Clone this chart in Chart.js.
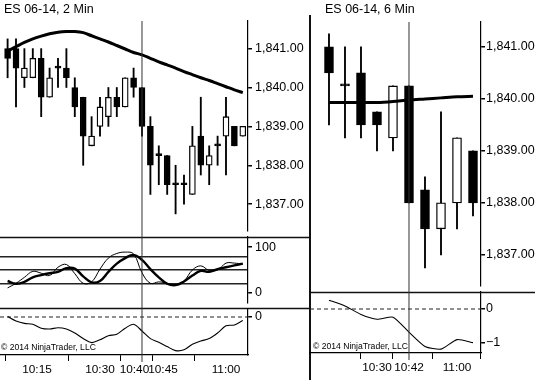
<!DOCTYPE html>
<html>
<head>
<meta charset="utf-8">
<title>ES 06-14</title>
<script src="https://cdn.jsdelivr.net/npm/chart.js@4.4.1/dist/chart.umd.min.js"></script>
<style>
  body { margin: 0; background: #fff; }
  #wrap { position: relative; width: 535px; height: 380px; overflow: hidden; }
  #wrap canvas { position: absolute; left: 0; top: 0; }
</style>
</head>
<body>
<div id="wrap">
  <canvas id="leftPrice" width="535" height="380"></canvas>
  <canvas id="leftStoch" width="535" height="380"></canvas>
  <canvas id="leftOsc" width="535" height="380"></canvas>
  <canvas id="rightPrice" width="535" height="380"></canvas>
  <canvas id="rightOsc" width="535" height="380"></canvas>
</div>
<script>
// times are minutes after 10:00

// 2 min chart
const leftTimes = [8, 10, 12, 14, 16, 18, 20, 22, 24, 26, 28, 30, 32, 34, 36, 38, 40, 42, 44, 46, 48, 50, 52, 54, 56, 58, 60, 62, 64];
const leftOpen  = [1841, 1841, 1840.25, 1840.25, 1840.75, 1839.75, 1840.5, 1840.5, 1840, 1839.75, 1838.5, 1839, 1839.25, 1839.75, 1839.5, 1840.25, 1840, 1839, 1838.25, 1838.25, 1837.5, 1837.5, 1837.25, 1838.75, 1838, 1838.5, 1838.75, 1839, 1838.75];
const leftHigh  = [1841.25, 1841.25, 1841, 1841, 1841, 1840.5, 1840.75, 1841, 1840.25, 1839.75, 1839.25, 1839.75, 1840, 1840, 1840.25, 1840.5, 1840, 1839.25, 1838.5, 1838.25, 1838, 1837.75, 1839, 1839.75, 1838.5, 1838.75, 1839.75, 1839, 1839];
const leftLow   = [1840.25, 1839.5, 1840, 1840.25, 1839.25, 1839.75, 1840, 1840, 1839.25, 1838, 1838.5, 1838.75, 1839, 1839.25, 1839.5, 1839.75, 1838.75, 1837.25, 1837.5, 1837.25, 1836.75, 1837, 1837.25, 1837.75, 1837.5, 1838, 1837.75, 1838.5, 1838.75];
const leftClose = [1840.75, 1840.5, 1840.5, 1840.75, 1839.75, 1840.25, 1840.5, 1840.25, 1839.5, 1838.75, 1838.75, 1839.5, 1839.75, 1839.5, 1840.25, 1840, 1839, 1838, 1838.25, 1837.5, 1837.5, 1837.5, 1838.5, 1838, 1838.25, 1838.5, 1839.25, 1838.5, 1839];
const leftAvg   = [1840.94, 1841.05, 1841.16, 1841.25, 1841.32, 1841.38, 1841.42, 1841.44, 1841.44, 1841.41, 1841.33, 1841.25, 1841.17, 1841.08, 1840.99, 1840.9, 1840.84, 1840.75, 1840.66, 1840.58, 1840.5, 1840.41, 1840.33, 1840.25, 1840.18, 1840.1, 1840.02, 1839.94, 1839.87];
const leftStochK = [11, 21, 34, 47, 43, 38, 56, 62, 42, 21, 24, 52, 76, 86, 89, 85, 44, 21, 24, 21, 17, 26, 50, 59, 49, 50, 65, 65, 63];
const leftStochD = [26, 20, 24, 34, 39, 43, 46, 54, 53, 36, 23, 26, 46, 64, 76, 83, 72, 52, 34, 20, 17, 25, 38, 48, 46, 52, 56, 60, 64];
const leftOsc = [1, -10, -16, -18, -28, -30, -27, -30, -40, -54, -64, -57, -47, -43, -28, -18, -35, -54, -63, -74, -84, -82, -68, -60, -54, -40, -22, -20, -9];
const leftTickTimes = [15, 30, 40, 45, 60];
const leftLabelTimes = [15, 30, 38.2, 45, 60];   // the cursor label sits left of its tick
const leftTickLabels = ['10:15', '10:30', '10:40', '10:45', '11:00'];
const leftCursor = 40;

// 6 min chart
const rightTimes = [12, 18, 24, 30, 36, 42, 48, 54, 60, 66];
const rightOpen  = [1841, 1840.25, 1840.5, 1839.75, 1839.25, 1840.25, 1838.25, 1837.5, 1838, 1839];
const rightHigh  = [1841.25, 1841, 1841, 1839.75, 1840.25, 1840.25, 1838.5, 1839.75, 1839.25, 1839];
const rightLow   = [1839.5, 1839.25, 1839.25, 1839, 1839, 1838, 1836.75, 1837, 1837.5, 1837.75];
const rightClose = [1840.5, 1840.25, 1839.5, 1839.5, 1840.25, 1838, 1837.5, 1838, 1839.25, 1838];
const rightAvg   = [1839.93, 1839.93, 1839.93, 1839.93, 1839.95, 1839.98, 1840.0, 1840.02, 1840.04, 1840.05];
const rightOsc   = [0.26, 0.09, -0.16, -0.30, -0.24, -0.68, -1.10, -1.18, -0.90, -0.99];
const rightTickTimes = [30, 42, 60];
const rightLabelTimes = [30, 42, 60];
const rightTickLabels = ['10:30', '10:42', '11:00'];
const rightCursor = 42;

const priceTicks = [1837, 1838, 1839, 1840, 1841];
const stochTicks = [0, 100];
const stochLevels = [20, 50, 80];

const FONT = "'Liberation Sans', Arial, sans-serif";
const W = 535, H = 380;

Chart.defaults.font.family = FONT;
Chart.defaults.font.size = 12.5;
Chart.defaults.color = '#000';

const decorPlugin = {
  id: 'decor',
  afterDraw(chart, args, opts) {
    const ctx = chart.ctx;
    ctx.save();
    ctx.strokeStyle = '#111';
    (opts.lines || []).forEach(l => {
      ctx.lineWidth = l.w;
      ctx.beginPath();
      ctx.moveTo(l.x1, l.y1);
      ctx.lineTo(l.x2, l.y2);
      ctx.stroke();
    });
    if (opts.cursor) {
      const x = chart.scales.x.getPixelForValue(opts.cursor.t);
      ctx.lineWidth = 1;
      ctx.strokeStyle = '#333';
      ctx.beginPath();
      ctx.moveTo(x, opts.cursor.y1);
      ctx.lineTo(x, opts.cursor.y2);
      ctx.stroke();
    }
    ctx.fillStyle = '#000';
    (opts.texts || []).forEach(t => {
      ctx.font = t.size + 'px ' + FONT;
      ctx.fillText(t.text, t.x, t.y);
    });
    ctx.restore();
  }
};

function candles(times, open, high, low, close, width) {
  return [
    {
      type: 'bar',
      data: times.map((t, i) => ({ x: t, y: [open[i], close[i]] })),
      backgroundColor: times.map((t, i) => close[i] > open[i] ? '#fff' : '#000'),
      borderColor: '#000',
      borderWidth: 1.3,
      borderSkipped: false,
      barThickness: width,
      minBarLength: 2,
      grouped: false
    },
    {
      type: 'bar',
      data: times.map((t, i) => ({ x: t, y: [low[i], high[i]] })),
      backgroundColor: '#000',
      barThickness: 1.2,
      grouped: false
    }
  ];
}

function line(times, values, width, extra) {
  return Object.assign({
    type: 'line',
    data: times.map((t, i) => ({ x: t, y: values[i] })),
    borderColor: '#000',
    borderWidth: width,
    pointRadius: 0,
    tension: 0.4,
    fill: false
  }, extra || {});
}

function zeroLine(min, max) {
  return {
    type: 'line',
    data: [{ x: min, y: 0 }, { x: max, y: 0 }],
    borderColor: '#222',
    borderWidth: 1.2,
    borderDash: [4, 3],
    pointRadius: 0
  };
}

// x axis: tick marks only (labels come from a second axis below it)
function xScale(min, max, show, ticks) {
  return {
    type: 'linear', min, max, offset: false, display: show,
    grid: { drawOnChartArea: false, tickLength: 6, color: '#000', lineWidth: 1 },
    border: { color: '#000', width: 1.2 },
    ticks: { display: false },
    afterBuildTicks: s => { s.ticks = ticks.map(v => ({ value: v })); },
    afterFit: s => { s.height = 6; s.paddingLeft = 0; s.paddingRight = 0; }
  };
}

function xLabels(min, max, at, labels, height) {
  return {
    type: 'linear', position: 'bottom', weight: 1, min, max, offset: false,
    grid: { display: false, drawTicks: false },
    border: { display: false },
    ticks: {
      autoSkip: false, maxRotation: 0, padding: 2, font: { size: 11.8 },
      callback: v => labels[at.indexOf(v)] || ''
    },
    afterBuildTicks: s => { s.ticks = at.map(v => ({ value: v })); },
    afterFit: s => { s.height = height; s.paddingLeft = 0; s.paddingRight = 0; }
  };
}

function yScale(min, max, ticks, fmt, width, pad, levels) {
  levels = levels || [];
  const all = ticks.concat(levels).sort((a, b) => a - b);
  return {
    type: 'linear', position: 'right', min, max,
    grid: {
      drawOnChartArea: levels.length > 0,
      color: c => (c.tick && levels.includes(c.tick.value)) ? '#222' : 'rgba(0,0,0,0)',
      tickColor: c => (c.tick && levels.includes(c.tick.value)) ? 'rgba(0,0,0,0)' : '#000',
      lineWidth: 1.5,
      tickLength: 4
    },
    border: { color: '#000', width: 1.2 },
    ticks: {
      autoSkip: false, padding: pad, font: { size: 12.5 },
      callback: v => ticks.includes(v) ? fmt(v) : ''
    },
    afterBuildTicks: s => { s.ticks = all.map(v => ({ value: v })); },
    afterFit: s => { s.width = width; s.paddingTop = 0; s.paddingBottom = 0; }
  };
}

function panel(id, padding, datasets, scales, decor) {
  return new Chart(document.getElementById(id), {
    type: 'bar',
    data: { datasets },
    options: {
      responsive: false,
      animation: false,
      events: [],
      layout: { padding },
      scales,
      plugins: { legend: { display: false }, tooltip: { enabled: false }, decor }
    },
    plugins: [decorPlugin]
  });
}

const fmtPrice = v => v.toLocaleString('en-US', { minimumFractionDigits: 2, maximumFractionDigits: 2 });
const fmtInt = v => v < 0 ? '\u2212' + Math.abs(v) : String(v);

// left x range (minutes) and right x range
const LX = [6.19, 65.24];
const RX = [4.88, 69.0];

// 2 min: price
panel('leftPrice', { left: 0, top: 21, right: W - 310, bottom: H - 237 },
  [line(leftTimes, leftAvg, 3, { tension: 0.3 })].concat(candles(leftTimes, leftOpen, leftHigh, leftLow, leftClose, 6)),
  {
    x: xScale(LX[0], LX[1], false, leftTickTimes),
    y: yScale(1836.31, 1841.71, priceTicks, fmtPrice, 62, 3)
  },
  { texts: [{ text: 'ES 06-14, 2 Min', x: 4, y: 13, size: 12.5 }] });

// 2 min: stochastics
panel('leftStoch', { left: 0, top: 237, right: W - 310, bottom: H - 309 },
  [line(leftTimes, leftStochK, 1), line(leftTimes, leftStochD, 2.4)],
  {
    x: xScale(LX[0], LX[1], false, leftTickTimes),
    y: yScale(-22, 122, stochTicks, fmtInt, 62, 3, stochLevels)
  },
  { lines: [{ x1: 0, y1: 237.5, x2: 310, y2: 237.5, w: 1.3 }, { x1: 0, y1: 308.5, x2: 310, y2: 308.5, w: 1.3 }] });

// 2 min: oscillator
panel('leftOsc', { left: 0, top: 309, right: W - 310, bottom: 0 },
  [line(leftTimes, leftOsc, 1.1, { tension: 0.3 }), zeroLine(LX[0], LX[1])],
  {
    x: xScale(LX[0], LX[1], true, leftTickTimes),
    xl: xLabels(LX[0], LX[1], leftLabelTimes, leftTickLabels, 19),
    y: yScale(-95, 20, [0], fmtInt, 62, 3)
  },
  {
    cursor: { t: leftCursor, y1: 21, y2: 362 },
    texts: [{ text: '\u00a9 2014 NinjaTrader, LLC', x: 1, y: 350, size: 8.6 }]
  });

// 6 min: price
panel('rightPrice', { left: 310, top: 22, right: 0, bottom: H - 292 },
  [line(rightTimes, rightAvg, 3, { tension: 0.3 })].concat(candles(rightTimes, rightOpen, rightHigh, rightLow, rightClose, 9)),
  {
    x: xScale(RX[0], RX[1], false, rightTickTimes),
    y: yScale(1836.40, 1841.48, priceTicks, fmtPrice, W - 481, 1)
  },
  {
    lines: [{ x1: 310, y1: 15, x2: 310, y2: 380, w: 2 }],
    texts: [{ text: 'ES 06-14, 6 Min', x: 325, y: 13, size: 12.5 }]
  });

// 6 min: oscillator
panel('rightOsc', { left: 310, top: 292, right: 0, bottom: 0 },
  [line(rightTimes, rightOsc, 1.1, { tension: 0.2 }), zeroLine(RX[0], RX[1])],
  {
    x: xScale(RX[0], RX[1], true, rightTickTimes),
    xl: xLabels(RX[0], RX[1], rightLabelTimes, rightTickLabels, 21),
    y: yScale(-1.294, 0.5, [0, -1], fmtInt, W - 481, 1)
  },
  {
    lines: [{ x1: 310, y1: 292.5, x2: W, y2: 292.5, w: 1.3 }],
    cursor: { t: rightCursor, y1: 22, y2: 360 },
    texts: [{ text: '\u00a9 2014 NinjaTrader, LLC', x: 313, y: 349, size: 8.6 }]
  });
</script>
</body>
</html>
